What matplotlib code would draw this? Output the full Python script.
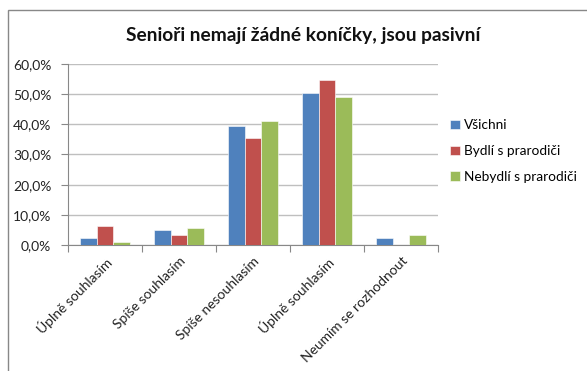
import matplotlib.pyplot as plt
import numpy as np
from matplotlib.patches import Rectangle

plt.rcParams['font.family'] = ['Lato', 'DejaVu Sans']

# answers and shares (%) per group
categories = ['Úplně souhlasím', 'Spíše souhlasím', 'Spíše nesouhlasím',
              'Úplně souhlasím', 'Neumím se rozhodnout']
vsichni = [2.4, 5.0, 39.5, 50.4, 2.4]
bydli = [6.4, 3.2, 35.4, 54.8, 0.0]
nebydli = [1.0, 5.6, 41.1, 48.9, 3.3]
series_names = ['Všichni', 'Bydlí s prarodiči', 'Nebydlí s prarodiči']
colors = ['#4F81BD', '#C0504D', '#9BBB59']

fig = plt.figure(figsize=(5.87, 3.71), dpi=100)
W, H = 587, 371

# chart frame
fig.patches.append(Rectangle((8 / W, -0.1), 1.2, (H - 10) / H + 0.1,
                             transform=fig.transFigure, fill=False,
                             edgecolor='#888888', lw=1.0))

ax = fig.add_axes([68 / W, 1 - 245 / H, (438 - 68) / W, (245 - 64) / H])

x = np.arange(len(categories))
bw = 0.225
for i, (vals, name, c) in enumerate(zip([vsichni, bydli, nebydli], series_names, colors)):
    ax.bar(x + (i - 1) * bw, vals, bw, color=c, label=name, zorder=3,
           edgecolor='white', linewidth=0.4)

ax.set_xlim(-0.5, len(categories) - 0.5)
ax.set_ylim(0, 60)
ax.set_yticks(np.arange(0, 61, 10))
ax.set_yticklabels([f'{v:.1f}%'.replace('.', ',') for v in np.arange(0, 61, 10)],
                   fontsize=10, color='#222222')
ax.yaxis.grid(True, color='#BFBFBF', lw=1.0, zorder=0)

ax.set_xticks(np.arange(-0.5, len(categories), 1.0))
ax.set_xticklabels([])
ax.set_xticks(x, minor=True)
ax.set_xticklabels(categories, minor=True, rotation=45, ha='right',
                   rotation_mode='anchor', fontsize=10, color='#222222')
ax.tick_params(axis='x', which='minor', length=0, pad=7)
ax.tick_params(axis='x', which='major', length=5, color='#888888')
ax.tick_params(axis='y', length=5, color='#888888', pad=7)

for s in ['top', 'right']:
    ax.spines[s].set_visible(False)
for s in ['left', 'bottom']:
    ax.spines[s].set_color('#888888')

fig.text(303 / W, 1 - 35 / H, 'Senioři nemají žádné koníčky, jsou pasivní',
         ha='center', va='center', fontsize=13.8, fontweight='bold', color='#111111')

fig.legend(loc='upper left', bbox_to_anchor=(445 / W, 1 - 114 / H),
           frameon=False, fontsize=9.8, handlelength=0.7, handleheight=0.7,
           handletextpad=0.3, labelspacing=1.0, borderaxespad=0)

fig.savefig('out.png', dpi=100, facecolor='white')
